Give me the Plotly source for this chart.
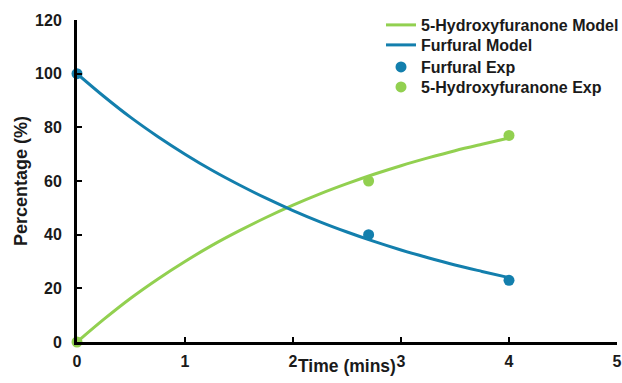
import plotly.graph_objects as go

# Model curves
model_time = [0, 0.25, 0.5, 0.75, 1, 1.25, 1.5, 1.75, 2, 2.25, 2.5, 2.75, 3, 3.25, 3.5, 3.75, 4]
furfural_model = [100, 91.5, 83.6, 76.5, 70.0, 64.0, 58.6, 53.6, 49.0, 44.8, 41.0, 37.5, 34.3, 31.4, 28.7, 26.3, 24.0]
hydroxy_model = [0, 8.5, 16.4, 23.5, 30.0, 36.0, 41.4, 46.4, 51.0, 55.2, 59.0, 62.5, 65.7, 68.6, 71.3, 73.7, 76.0]

# Experimental points
exp_time = [0, 2.7, 4]
furfural_exp = [100, 40, 23]
hydroxy_exp = [0, 60, 77]

x_ticks = [0, 1, 2, 3, 4, 5]
y_ticks = [0, 20, 40, 60, 80, 100, 120]

BLUE = "#137FAD"
GREEN = "#92D050"
TXT = "#1a1a1a"

L, R, T, B = 77, 5, 20, 41
W, H = 622, 383
PW, PH = W - L - R, H - T - B

fig = go.Figure()
fig.add_trace(go.Scatter(x=model_time, y=hydroxy_model, mode="lines", name="5-Hydroxyfuranone Model",
                         line=dict(color=GREEN, width=3, shape="spline"), legend="legend"))
fig.add_trace(go.Scatter(x=model_time, y=furfural_model, mode="lines", name="Furfural Model",
                         line=dict(color=BLUE, width=3, shape="spline"), legend="legend2"))
fig.add_trace(go.Scatter(x=exp_time, y=furfural_exp, mode="markers", name="Furfural Exp",
                         marker=dict(color=BLUE, size=11), legend="legend3"))
fig.add_trace(go.Scatter(x=exp_time, y=hydroxy_exp, mode="markers", name="5-Hydroxyfuranone Exp",
                         marker=dict(color=GREEN, size=11), legend="legend4"))
for tr in fig.data:
    tr.cliponaxis = False

font_family = "Liberation Sans, Arial, sans-serif"
axis_common = dict(showgrid=False, zeroline=False, showline=True, linecolor="black", linewidth=3,
                   ticks="inside", ticklen=5, tickwidth=2, tickcolor="black", automargin=False,
                   tickfont=dict(size=16, weight="bold", color=TXT, family=font_family))


def leg(ypx):
    return dict(x=(381 - L) / PW, y=(H - B - ypx) / PH, xanchor="left", yanchor="middle",
                font=dict(size=16, family=font_family, color=TXT, weight="bold"),
                bgcolor="rgba(0,0,0,0)", itemwidth=30)


fig.update_layout(
    width=W, height=H,
    margin=dict(l=L, r=R, t=T, b=B, autoexpand=False),
    paper_bgcolor="white", plot_bgcolor="white",
    font=dict(family=font_family, size=16, color=TXT),
    showlegend=True,
    legend=leg(25), legend2=leg(45), legend3=leg(67), legend4=leg(87),
    xaxis=dict(range=[0, 5], tickvals=x_ticks, ticklabelstandoff=3, ticklabeloverflow="allow", **axis_common),
    yaxis=dict(range=[0, 120], tickvals=y_ticks, ticklabelstandoff=9, **axis_common),
)

fig.add_annotation(text="Time (mins)", xref="paper", yref="paper", x=(347 - L) / PW, y=-(366 - (H - B)) / PH,
                   xanchor="center", yanchor="middle", showarrow=False,
                   font=dict(size=17.5, weight="bold", color=TXT, family=font_family))
fig.add_annotation(text="Percentage (%)", xref="paper", yref="paper", x=(21 - L) / PW, y=(H - B - 181) / PH,
                   xanchor="center", yanchor="middle", showarrow=False, textangle=-90,
                   font=dict(size=18, weight="bold", color=TXT, family=font_family))

fig.write_html("out.html", config={"displayModeBar": False},
               post_script="document.body.style.margin='0px';")
